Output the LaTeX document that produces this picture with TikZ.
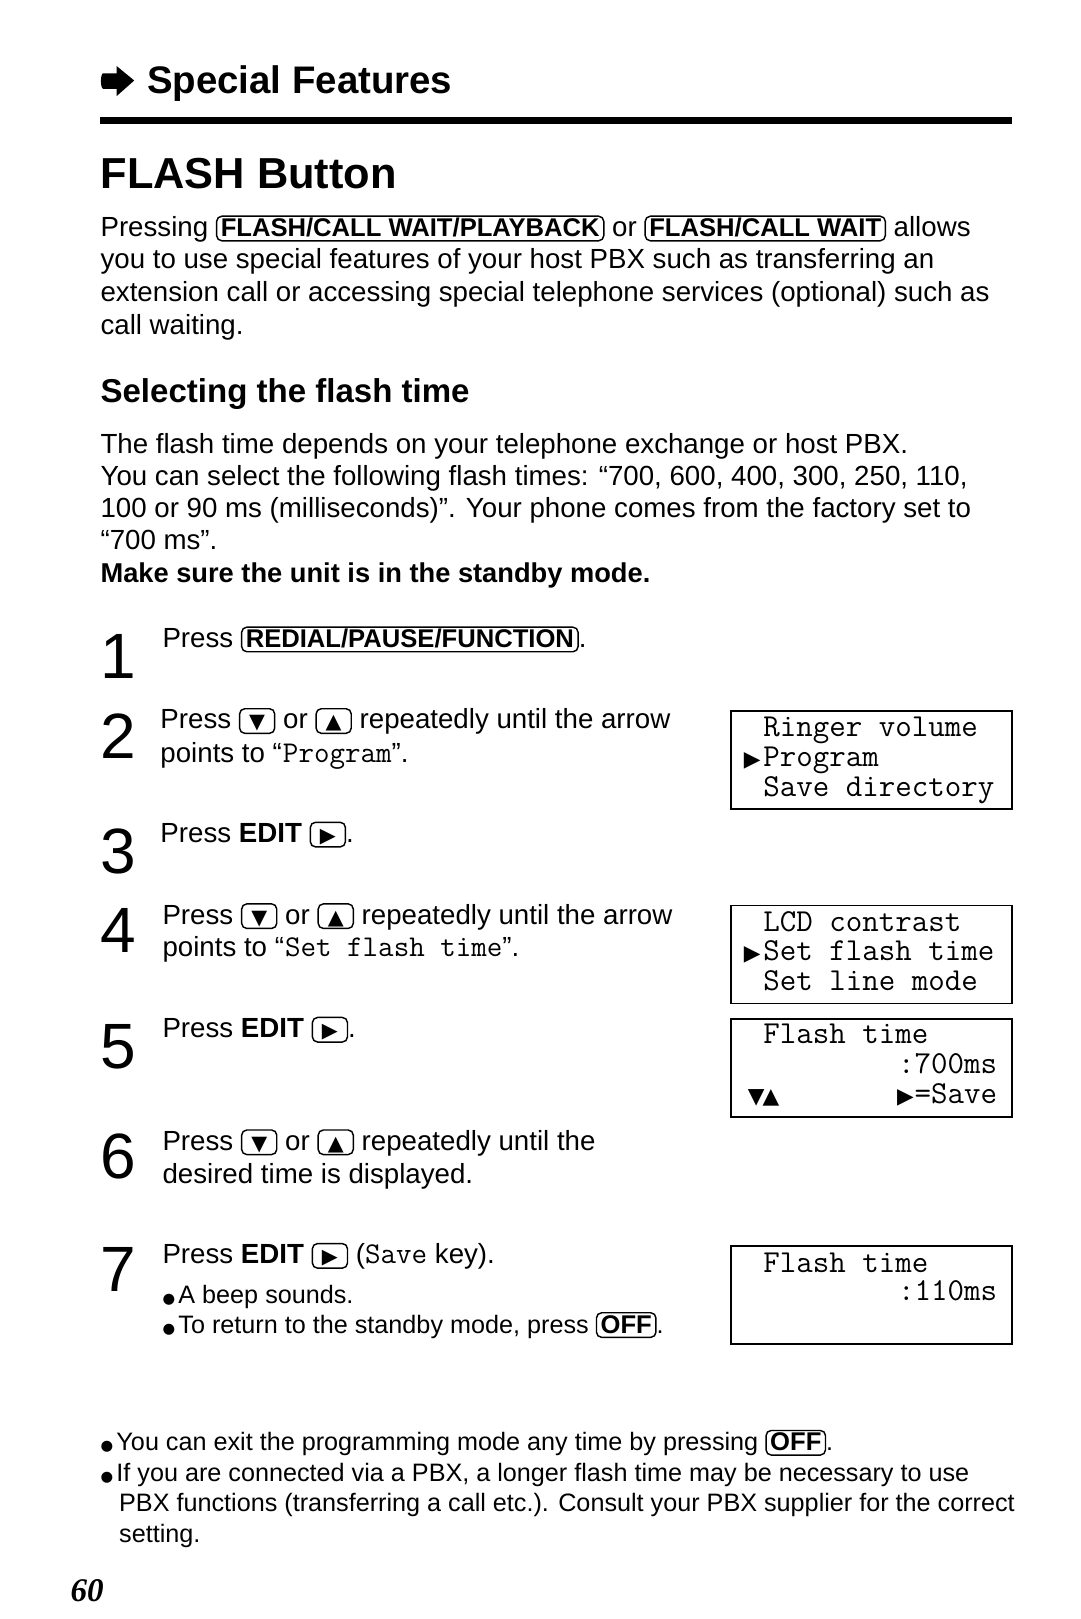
\documentclass[tikz,border=0pt]{standalone}
\usepackage{fontspec}
\setmainfont{Liberation Sans}
\newfontfamily\symfont{DejaVu Sans}
\newfontfamily\pagefont{Liberation Serif}
\usetikzlibrary{positioning}

\tikzset{
  keycap/.style={draw, line width=0.7pt, rounded corners=2.5pt, inner xsep=2pt, inner ysep=0.6pt,
    text height=9.2pt, text depth=1.5pt, font=\fontsize{12.4}{14}\selectfont\bfseries},
  arrowkey/.style={keycap, minimum width=17pt, font=\fontsize{10}{11}\symfont}
}
\newcommand{\keycap}[1]{\tikz[baseline=(kc.base)]\node[keycap] (kc) {#1};}
\newcommand{\arrkey}[1]{\tikz[baseline=(kc.base)]\node[arrowkey] (kc) {#1};}
\newcommand{\bul}{{\fontsize{7}{8}\symfont ●}\kern1.6pt}

\begin{document}
\begin{tikzpicture}[x=0.5pt, y=-0.5pt,
    txt/.style={anchor=base west, inner sep=0pt, font=\fontsize{13.4}{16}\selectfont},
    note/.style={txt, font=\fontsize{12.2}{14.5}\selectfont},
    stepnum/.style={anchor=base west, inner sep=0pt, font=\fontsize{31}{33}\selectfont},
    lcd/.style={draw, line width=0.8pt, minimum width=136pt, minimum height=47.5pt, anchor=north west, inner sep=0pt},
    lcdtxt/.style={anchor=base west, inner sep=0pt, font=\fontsize{15.5}{16}\selectfont\ttfamily},
    lcdsym/.style={anchor=base west, inner sep=0pt, font=\fontsize{10.5}{11}\symfont}]
  \useasboundingbox (0,0) rectangle (1046,1568);
  \fill[white] (0,0) rectangle (1046,1568);

  % header
  \fill (100,71) -- (113,71) -- (113,64) -- (130,78) -- (113,93) -- (113,86) -- (100,86)
    .. controls (97,86) and (97,71) .. (100,71);
  \node[anchor=base west, inner sep=0pt, font=\fontsize{18.6}{20}\selectfont\bfseries] (section) at (142,91) {Special Features};
  \fill (97,113.5) rectangle (980,120.5);
  \node[anchor=base west, inner sep=0pt, font=\fontsize{21}{24}\selectfont\bfseries] (title) at (97,183) {FLASH Button};

  \node[txt] (p1) at (97,229) {Pressing \keycap{FLASH/CALL WAIT/PLAYBACK} or \keycap{FLASH/CALL WAIT} allows};
  \node[txt] (p2) at (97,260) {you to use special features of your host PBX such as transferring an};
  \node[txt] (p3) at (97,292) {extension call or accessing special telephone services (optional) such as};
  \node[txt] (p4) at (97,324) {call waiting.};

  \node[anchor=base west, inner sep=0pt, font=\fontsize{16}{18}\selectfont\bfseries] (subtitle) at (97,390) {Selecting the flash time};
  \node[txt] (q1) at (97,439) {The flash time depends on your telephone exchange or host PBX.};
  \node[txt] (q2) at (97,470) {You can select the following flash times: “700, 600, 400, 300, 250, 110,};
  \node[txt] (q3) at (97,501) {100 or 90 ms (milliseconds)”. Your phone comes from the factory set to};
  \node[txt] (q4) at (97,532) {“700 ms”.};
  \node[txt, font=\fontsize{13.2}{16}\selectfont\bfseries] (q5) at (97,564) {Make sure the unit is in the standby mode.};

  % steps
  \node[stepnum] (n1) at (97,657) {1};
  \node[txt] (s1) at (157,627) {Press \keycap{REDIAL/PAUSE/FUNCTION}.};

  \node[stepnum] (n2) at (97,735) {2};
  \node[txt] (s2a) at (155,706) {Press \arrkey{▼} or \arrkey{▲} repeatedly until the arrow};
  \node[txt] (s2b) at (155,738) {points to “\kern0.5pt{\fontsize{14.6}{16}\selectfont\ttfamily Program}”.};

  \node[stepnum] (n3) at (97,846) {3};
  \node[txt] (s3) at (155,816) {Press \textbf{EDIT} \arrkey{▶}.};

  \node[stepnum] (n4) at (97,922) {4};
  \node[txt] (s4a) at (157,895) {Press \arrkey{▼} or \arrkey{▲} repeatedly until the arrow};
  \node[txt] (s4b) at (157,926) {points to “\kern0.5pt{\fontsize{14.6}{16}\selectfont\ttfamily Set flash time}”.};

  \node[stepnum] (n5) at (97,1035) {5};
  \node[txt] (s5) at (157,1005) {Press \textbf{EDIT} \arrkey{▶}.};

  \node[stepnum] (n6) at (97,1141) {6};
  \node[txt] (s6a) at (157,1114) {Press \arrkey{▼} or \arrkey{▲} repeatedly until the};
  \node[txt] (s6b) at (157,1146) {desired time is displayed.};

  \node[stepnum] (n7) at (97,1251) {7};
  \node[txt] (s7a) at (157,1224) {Press \textbf{EDIT} \arrkey{▶} ({\fontsize{14.6}{16}\selectfont\ttfamily Save} key).};
  \node[note] (s7b) at (157,1262) {\bul A beep sounds.};
  \node[note] (s7c) at (157,1291) {\bul To return to the standby mode, press \keycap{OFF}.};

  % displays
  \node[lcd] (lcdA) at (707,688) {};
  \node[lcdtxt] (a1) at (739,713) {Ringer volume};
  \node[lcdsym] (a2s) at (720,742) {▶};
  \node[lcdtxt] (a2) at (739,742) {Program};
  \node[lcdtxt] (a3) at (739,771) {Save directory};

  \node[lcd] (lcdB) at (707,876) {};
  \node[lcdtxt] (b1) at (739,902) {LCD contrast};
  \node[lcdsym] (b2s) at (720,930) {▶};
  \node[lcdtxt] (b2) at (739,930) {Set flash time};
  \node[lcdtxt] (b3) at (739,959) {Set line mode};

  \node[lcd] (lcdC) at (707,986) {};
  \node[lcdtxt] (c1) at (739,1011) {Flash time};
  \node[lcdtxt, anchor=base east] (c2) at (966,1040) {:700ms};
  \node[lcdsym] (c3s) at (724,1069) {▼\kern-1pt▲};
  \node[lcdtxt, anchor=base east] (c3) at (966,1069) {=Save};
  \node[lcdsym, anchor=base east] (c3a) at (c3.base west) {▶};

  \node[lcd] (lcdD) at (707,1206) {};
  \node[lcdtxt] (d1) at (739,1232) {Flash time};
  \node[lcdtxt, anchor=base east] (d2) at (966,1260) {:110ms};

  % notes
  \node[note] (e1) at (97,1405) {\bul You can exit the programming mode any time by pressing \keycap{OFF}.};
  \node[note] (e2) at (97,1435) {\bul If you are connected via a PBX, a longer flash time may be necessary to use};
  \node[note] (e3) at (115,1464) {PBX functions (transferring a call etc.). Consult your PBX supplier for the correct};
  \node[note] (e4) at (115,1494) {setting.};

  \node[anchor=base west, inner sep=0pt, font=\fontsize{16}{18}\pagefont\bfseries\itshape] (page) at (68,1551) {60};
\end{tikzpicture}
\end{document}
